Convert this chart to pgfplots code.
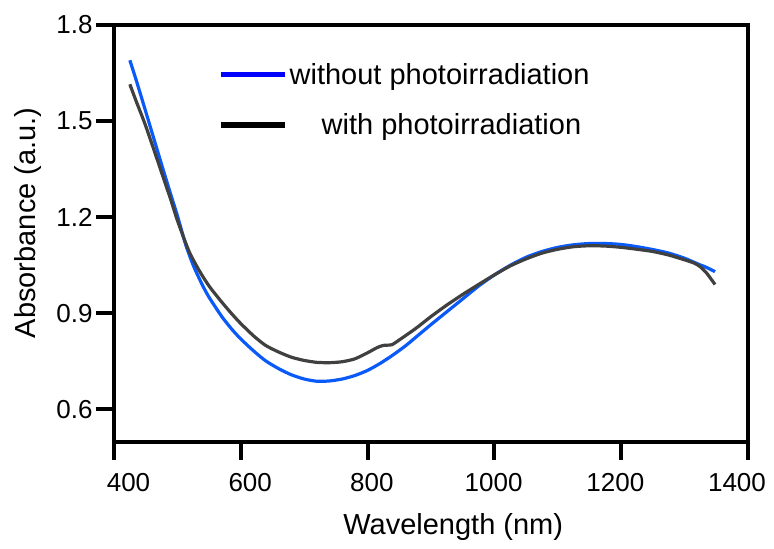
\documentclass[border=0pt]{standalone}
\usepackage{pgfplots}
\pgfplotsset{compat=1.18}
\usepackage{fontspec}
\setmainfont{Liberation Sans}
\definecolor{curveblue}{RGB}{10,90,250}
\definecolor{curvegray}{RGB}{64,64,64}
\begin{document}
\begin{tikzpicture}
\begin{axis}[
  scale only axis, width=634pt, height=416.5pt,
  xmin=400, xmax=1400, ymin=0.5, ymax=1.8,
  clip=false,
  xtick={400,600,800,1000,1200,1400},
  ytick={0.6,0.9,1.2,1.5,1.8},
  /pgf/number format/assume math mode=true,
  /pgf/number format/1000 sep={},
  yticklabel style={/pgf/number format/.cd, fixed, fixed zerofill, precision=1},
  xticklabel style={xshift=14.5pt-5.1pt*\ticknum, yshift=-10pt},
  tick align=outside,
  xtick pos=bottom, ytick pos=left,
  tickwidth=18pt,
  tick style={draw=black, line width=4pt},
  axis line style={draw=black, line width=4pt},
  ticklabel style={font=\fontsize{26}{30}\selectfont},
  xlabel={Wavelength (nm)}, ylabel={Absorbance (a.u.)},
  label style={font=\fontsize{29}{34}\selectfont},
  xlabel style={at={(axis description cs:0.535,-0.205)}, anchor=center},
  ylabel style={at={(axis description cs:-0.135,0.525)}, anchor=center},
  legend style={draw=none, fill=none, at={(axis description cs:0.164,0.913)}, anchor=north west,
    font=\fontsize{29}{34}\selectfont, row sep=24pt, inner sep=0pt},
  legend cell align=left,
  legend image code/.code={\draw[#1] (0pt,0pt) -- (55pt,0pt); \path (0pt,0pt) -- (64pt,0pt);},
]
\addplot[curveblue, line width=3.2pt, smooth, tension=0.4, forget plot] coordinates {
(425,1.69) (435,1.628) (450,1.53) (475,1.365) (490,1.268) (500,1.205) (513,1.115)
(525,1.05) (539,0.99) (550,0.95) (570,0.89) (586,0.85) (600,0.82) (620,0.783)
(639,0.752) (660,0.727) (680,0.708) (700,0.695) (720,0.688) (740,0.689) (760,0.695)
(780,0.706) (800,0.722) (820,0.744) (840,0.77) (860,0.799) (880,0.832) (900,0.865)
(925,0.905) (950,0.945) (975,0.985) (1000,1.02) (1025,1.05) (1050,1.075) (1075,1.093)
(1100,1.106) (1125,1.114) (1150,1.118) (1175,1.118) (1200,1.115) (1225,1.108)
(1250,1.099) (1275,1.088) (1300,1.072) (1320,1.055) (1335,1.043) (1348,1.03)
};
\addplot[curvegray, line width=3.2pt, smooth, tension=0.4, forget plot] coordinates {
(425,1.615) (435,1.562) (450,1.485) (475,1.34) (490,1.252) (500,1.19) (518,1.095)
(534,1.035) (550,0.985) (570,0.935) (586,0.898) (600,0.868) (620,0.83) (639,0.80)
(660,0.779) (680,0.763) (700,0.753) (720,0.747) (740,0.746) (760,0.749) (780,0.758)
(800,0.777) (815,0.793) (825,0.80) (838,0.802) (850,0.817) (876,0.853) (900,0.89)
(925,0.926) (950,0.959) (975,0.99) (1000,1.02) (1025,1.048) (1050,1.07) (1075,1.088)
(1100,1.1) (1125,1.108) (1150,1.111) (1175,1.11) (1200,1.106) (1225,1.10)
(1250,1.093) (1275,1.082) (1300,1.067) (1315,1.057) (1325,1.045) (1335,1.025) (1348,0.99)
};
\addlegendimage{blue, line width=5.5pt}
\addlegendentry{without photoirradiation}
\addlegendimage{black, line width=5.5pt}
\addlegendentry{\hspace{32pt}with photoirradiation}
\end{axis}
\pgfresetboundingbox
\path ([shift={(-114pt,-107.5pt)}]current axis.south west) rectangle ([shift={(26pt,25pt)}]current axis.north east);
\end{tikzpicture}
\end{document}
